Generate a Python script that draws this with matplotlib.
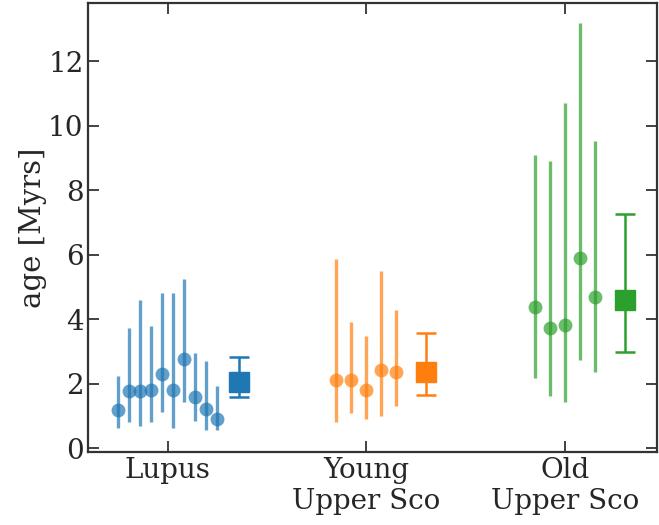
import numpy as np
import matplotlib
matplotlib.use("Agg")
import matplotlib.pyplot as plt

plt.rcParams['font.family'] = ['DejaVu Serif']

groups = ["Lupus", "Young\nUpper Sco", "Old\nUpper Sco"]
colors = ["#1f77b4", "#ff7f0e", "#2ca02c"]

# individual ages with lower/upper bounds (Myr)
lupus_age = [1.19, 1.76, 1.76, 1.80, 2.29, 1.79, 2.77, 1.59, 1.22, 0.90]
lupus_lo = [0.61, 0.82, 0.69, 0.82, 1.11, 0.61, 1.42, 0.84, 0.55, 0.55]
lupus_hi = [2.24, 3.72, 4.58, 3.79, 4.80, 4.80, 5.24, 2.96, 2.70, 1.92]

young_age = [2.11, 2.11, 1.80, 2.42, 2.36]
young_lo = [0.82, 1.10, 0.89, 0.99, 1.32]
young_hi = [5.88, 3.91, 3.47, 5.50, 4.27]

old_age = [4.37, 3.73, 3.81, 5.90, 4.69]
old_lo = [2.17, 1.61, 1.44, 2.73, 2.37]
old_hi = [9.10, 8.92, 10.71, 13.17, 9.54]

# group summary ages with bounds
mean_age = [2.05, 2.36, 4.58]
mean_lo = [1.58, 1.64, 2.98]
mean_hi = [2.83, 3.58, 7.27]

ages = [lupus_age, young_age, old_age]
los = [lupus_lo, young_lo, old_lo]
his = [lupus_hi, young_hi, old_hi]
steps = [0.0555, 0.0755, 0.0755]

fig, ax = plt.subplots(figsize=(6.59, 5.25), dpi=100)
fig.subplots_adjust(left=0.134, right=0.997, top=0.994, bottom=0.139)

for k in range(3):
    a = np.array(ages[k])
    lo = np.array(los[k])
    hi = np.array(his[k])
    n = len(a)
    x = k + (np.arange(n) - (n - 1) / 2) * steps[k]
    ax.errorbar(x, a, yerr=[a - lo, hi - a], fmt='o', color=colors[k],
                alpha=0.7, ms=10, elinewidth=2.4, capsize=0, mew=0)
    xm = k + (n + 1 - (n - 1) / 2) * steps[k]
    ax.errorbar([xm], [mean_age[k]],
                yerr=[[mean_age[k] - mean_lo[k]], [mean_hi[k] - mean_age[k]]],
                fmt='s', color=colors[k], ms=14.5, elinewidth=1.8,
                capsize=7.5, capthick=1.8)

ax.set_xlim(-0.40, 2.465)
ax.set_ylim(-0.12, 13.8)
ax.set_xticks(range(3))
ax.set_xticklabels(groups)
ax.set_yticks(range(0, 13, 2))
ax.set_ylabel("age [Myrs]", fontsize=21, color="#262626", labelpad=1)

for s in ax.spines.values():
    s.set_linewidth(1.6)
    s.set_color("#333333")
ax.tick_params(direction='in', top=True, right=True, length=8, width=1.3,
               color="#333333", labelsize=20, labelcolor="#262626")

fig.savefig("out.png", dpi=100)
